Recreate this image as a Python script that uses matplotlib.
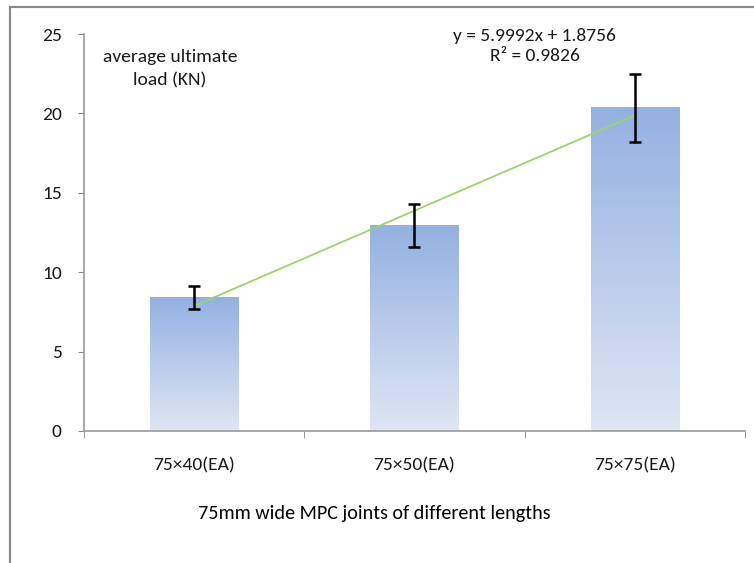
import numpy as np
import matplotlib.pyplot as plt
from matplotlib.lines import Line2D
from matplotlib.colors import LinearSegmentedColormap

# dati
categorie = ['75×40(EA)', '75×50(EA)', '75×75(EA)']
carico_medio = [8.38, 12.93, 20.36]
errore = [0.72, 1.36, 2.15]
pendenza = 5.9992
intercetta = 1.8756

plt.rcParams['font.family'] = ['Carlito', 'DejaVu Sans']
plt.rcParams['text.color'] = '#1a1a1a'
plt.rcParams['xtick.labelcolor'] = '#1a1a1a'
plt.rcParams['ytick.labelcolor'] = '#1a1a1a'
fs = 14

fig = plt.figure(figsize=(7.54, 5.63), dpi=100)
ax = fig.add_axes([0.1114, 0.2345, 0.8766, 0.7051])

x = np.arange(len(categorie))
larghezza = 0.4

# barre con sfumatura verticale
sfumatura = LinearSegmentedColormap.from_list('blu', ['#dfe6f4', '#94b1e1'])
grad = np.linspace(0, 1, 256).reshape(-1, 1)
for xi, h in zip(x, carico_medio):
    ax.imshow(grad, extent=[xi - larghezza / 2, xi + larghezza / 2, 0, h],
              origin='lower', aspect='auto', cmap=sfumatura, zorder=2)

ax.errorbar(x, carico_medio, yerr=errore, fmt='none', ecolor='black',
            elinewidth=1.8, capsize=4.5, capthick=1.8, zorder=4)

# linea di tendenza
xt = np.array([x[0] + 1, x[-1] + 1])
ax.plot(xt - 1, pendenza * xt + intercetta, color='#9bd46a', lw=1.3, zorder=3)

ax.set_xlim(-0.5, len(categorie) - 0.5)
ax.set_ylim(0, 25)
ax.set_yticks([0, 5, 10, 15, 20, 25])
ax.set_xticks(x)
ax.set_xticklabels(categorie)
ax.set_xticks(np.arange(-0.5, len(categorie)), minor=True)
ax.tick_params(axis='x', which='major', length=0, pad=19, labelsize=fs)
ax.tick_params(axis='x', which='minor', length=5, color='#888888')
ax.tick_params(axis='y', length=4, color='#888888', labelsize=fs, pad=12)

for s in ['top', 'right']:
    ax.spines[s].set_visible(False)
for s in ['left', 'bottom']:
    ax.spines[s].set_color('#999999')
    ax.spines[s].set_linewidth(1.2)

ax.set_xlabel('75mm wide MPC joints of different lengths', fontsize=14.5)
ax.xaxis.set_label_coords(0.439, -0.187)

ax.text(0.13, 0.962, 'average ultimate\nload (KN)', transform=ax.transAxes,
        ha='center', va='top', fontsize=fs, linespacing=1.53)
ax.text(0.682, 1.015, 'y = 5.9992x + 1.8756\nR² = 0.9826', transform=ax.transAxes,
        ha='center', va='top', fontsize=fs, linespacing=1.3)

# cornice grigia
fig.add_artist(Line2D([10 / 754, 1], [1 - 7 / 563] * 2, color='#888888', lw=1.5))
fig.add_artist(Line2D([10 / 754] * 2, [0, 1 - 7 / 563], color='#888888', lw=1.5))

fig.savefig('out.png', dpi=100)
